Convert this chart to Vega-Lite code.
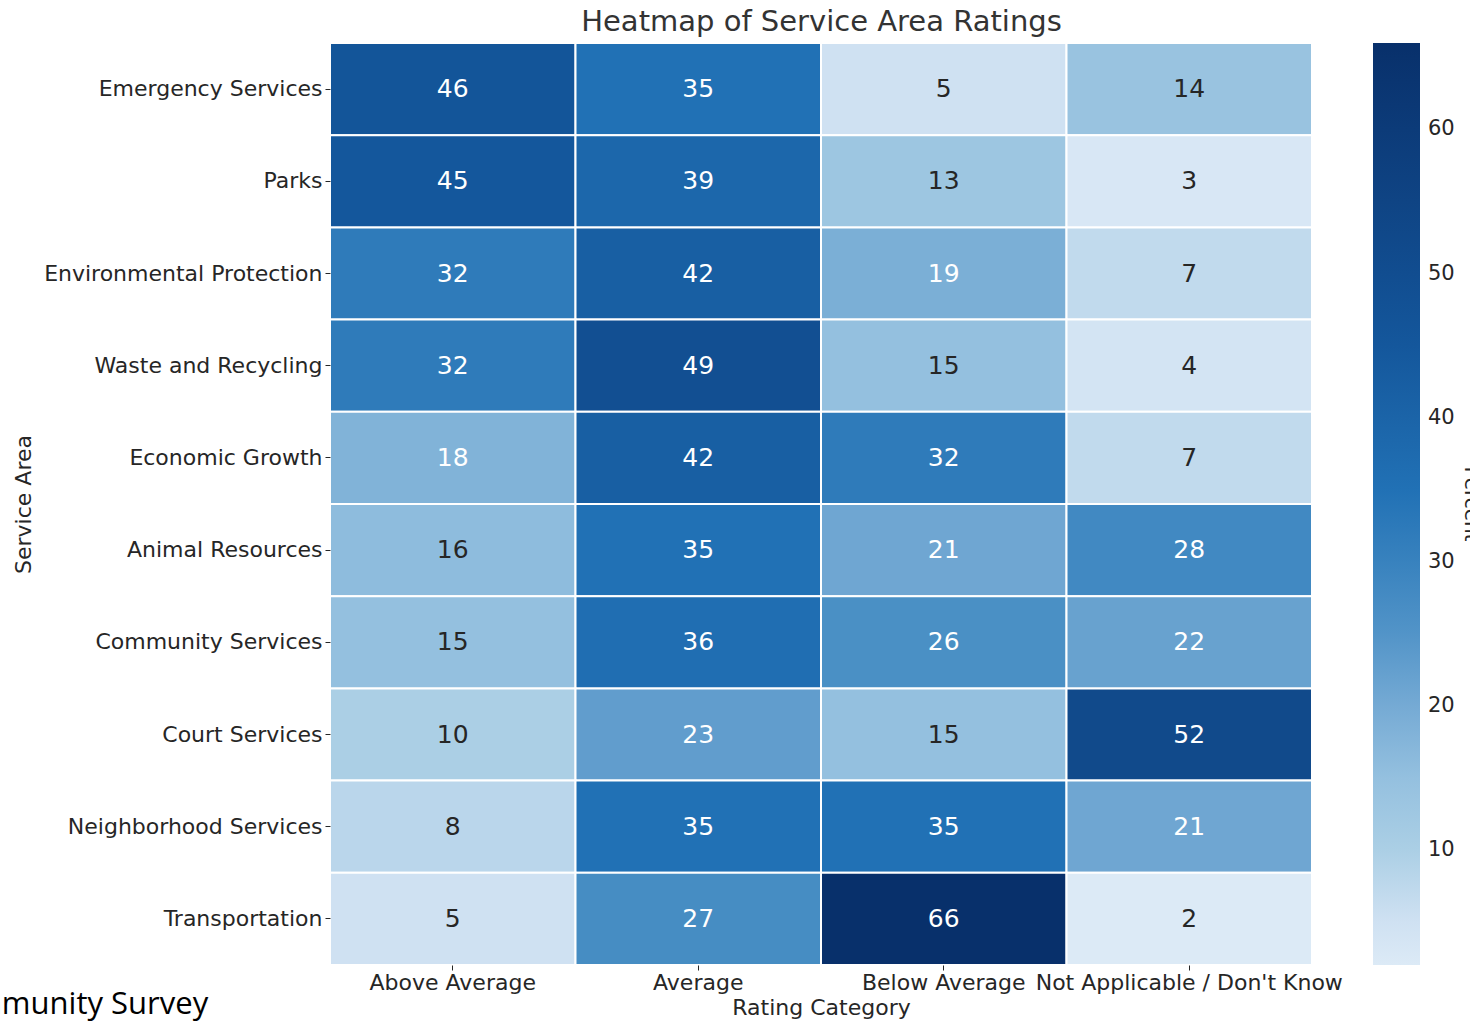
{
  "$schema": "https://vega.github.io/schema/vega-lite/v6.json",
  "autosize": "none",
  "width": 982,
  "height": 922,
  "padding": {"left": 330, "top": 43, "right": 158, "bottom": 56},
  "background": "white",
  "title": {
    "text": "Community Survey",
    "orient": "bottom",
    "anchor": "start",
    "frame": "group",
    "dx": -395,
    "offset": -4,
    "baseline": "alphabetic",
    "font": "Open Sans",
    "fontSize": 31,
    "fontWeight": "normal",
    "color": "#000000"
  },
  "config": {
    "view": {"stroke": null},
    "font": "DejaVu Sans",
    "axis": {"labelFont": "DejaVu Sans", "titleFont": "DejaVu Sans", "labelColor": "#262626", "titleColor": "#262626", "titleFontWeight": "normal", "domain": false, "grid": false, "labelLimit": 400}
  },
  "data": {
    "values": [
      {"area": "Emergency Services", "rating": "Above Average", "value": 46},
      {"area": "Emergency Services", "rating": "Average", "value": 35},
      {"area": "Emergency Services", "rating": "Below Average", "value": 5},
      {"area": "Emergency Services", "rating": "Not Applicable / Don't Know", "value": 14},
      {"area": "Parks", "rating": "Above Average", "value": 45},
      {"area": "Parks", "rating": "Average", "value": 39},
      {"area": "Parks", "rating": "Below Average", "value": 13},
      {"area": "Parks", "rating": "Not Applicable / Don't Know", "value": 3},
      {"area": "Environmental Protection", "rating": "Above Average", "value": 32},
      {"area": "Environmental Protection", "rating": "Average", "value": 42},
      {"area": "Environmental Protection", "rating": "Below Average", "value": 19},
      {"area": "Environmental Protection", "rating": "Not Applicable / Don't Know", "value": 7},
      {"area": "Waste and Recycling", "rating": "Above Average", "value": 32},
      {"area": "Waste and Recycling", "rating": "Average", "value": 49},
      {"area": "Waste and Recycling", "rating": "Below Average", "value": 15},
      {"area": "Waste and Recycling", "rating": "Not Applicable / Don't Know", "value": 4},
      {"area": "Economic Growth", "rating": "Above Average", "value": 18},
      {"area": "Economic Growth", "rating": "Average", "value": 42},
      {"area": "Economic Growth", "rating": "Below Average", "value": 32},
      {"area": "Economic Growth", "rating": "Not Applicable / Don't Know", "value": 7},
      {"area": "Animal Resources", "rating": "Above Average", "value": 16},
      {"area": "Animal Resources", "rating": "Average", "value": 35},
      {"area": "Animal Resources", "rating": "Below Average", "value": 21},
      {"area": "Animal Resources", "rating": "Not Applicable / Don't Know", "value": 28},
      {"area": "Community Services", "rating": "Above Average", "value": 15},
      {"area": "Community Services", "rating": "Average", "value": 36},
      {"area": "Community Services", "rating": "Below Average", "value": 26},
      {"area": "Community Services", "rating": "Not Applicable / Don't Know", "value": 22},
      {"area": "Court Services", "rating": "Above Average", "value": 10},
      {"area": "Court Services", "rating": "Average", "value": 23},
      {"area": "Court Services", "rating": "Below Average", "value": 15},
      {"area": "Court Services", "rating": "Not Applicable / Don't Know", "value": 52},
      {"area": "Neighborhood Services", "rating": "Above Average", "value": 8},
      {"area": "Neighborhood Services", "rating": "Average", "value": 35},
      {"area": "Neighborhood Services", "rating": "Below Average", "value": 35},
      {"area": "Neighborhood Services", "rating": "Not Applicable / Don't Know", "value": 21},
      {"area": "Transportation", "rating": "Above Average", "value": 5},
      {"area": "Transportation", "rating": "Average", "value": 27},
      {"area": "Transportation", "rating": "Below Average", "value": 66},
      {"area": "Transportation", "rating": "Not Applicable / Don't Know", "value": 2}
    ]
  },
  "resolve": {"axis": {"x": "independent"}},
  "layer": [
    {
      "mark": {"type": "rect", "stroke": "white", "strokeWidth": 2},
      "encoding": {
        "x": {
          "field": "rating", "type": "nominal",
          "sort": ["Above Average", "Average", "Below Average", "Not Applicable / Don't Know"],
          "scale": {"paddingInner": 0, "paddingOuter": 0},
          "axis": {"orient": "bottom", "title": "Rating Category", "labelAngle": 0, "labelFontSize": 22, "titleFontSize": 22, "tickSize": 5, "tickColor": "#262626", "labelPadding": 2, "titlePadding": 4}
        },
        "y": {
          "field": "area", "type": "nominal",
          "sort": ["Emergency Services", "Parks", "Environmental Protection", "Waste and Recycling", "Economic Growth", "Animal Resources", "Community Services", "Court Services", "Neighborhood Services", "Transportation"],
          "scale": {"paddingInner": 0, "paddingOuter": 0},
          "axis": {"title": "Service Area", "labelFontSize": 22, "titleFontSize": 22, "tickSize": 5, "tickColor": "#262626", "labelPadding": 3, "titleX": -307, "titleY": 461, "titleAngle": 270, "titleAlign": "center", "titleBaseline": "middle"}
        },
        "color": {
          "field": "value", "type": "quantitative",
          "scale": {
            "domain": [2, 5, 10, 15, 21, 26, 35, 46, 66],
            "range": ["#dceaf6", "#cfe1f2", "#abcfe5", "#94c0df", "#6fa6d2", "#4a90c5", "#2171b5", "#135599", "#08306b"]
          },
          "legend": {
            "title": "Percent",
            "orient": "right",
            "offset": 61,
            "direction": "vertical",
            "gradientLength": 922,
            "gradientThickness": 47,
            "gradientStrokeWidth": 0,
            "values": [10, 20, 30, 40, 50, 60],
            "labelFontSize": 21,
            "labelFont": "DejaVu Sans",
            "labelColor": "#262626",
            "labelOffset": 8,
            "titleOrient": "right",
            "titleAngle": 270,
            "titleFont": "DejaVu Sans",
            "titleFontSize": 20,
            "titleFontWeight": "normal",
            "titleColor": "#262626",
            "titlePadding": 6
          }
        }
      }
    },
    {
      "mark": {"type": "text", "font": "DejaVu Sans", "fontSize": 25},
      "encoding": {
        "x": {
          "field": "rating", "type": "nominal",
          "sort": ["Above Average", "Average", "Below Average", "Not Applicable / Don't Know"],
          "axis": {"orient": "top", "title": "Heatmap of Service Area Ratings", "labels": false, "ticks": false, "domain": false, "titleFontSize": 29, "titleColor": "#333333", "titlePadding": 7}
        },
        "y": {
          "field": "area", "type": "nominal",
          "sort": ["Emergency Services", "Parks", "Environmental Protection", "Waste and Recycling", "Economic Growth", "Animal Resources", "Community Services", "Court Services", "Neighborhood Services", "Transportation"]
        },
        "text": {"field": "value", "type": "quantitative"},
        "color": {
          "condition": {"test": "datum.value >= 17", "value": "#ffffff"},
          "value": "#262626"
        }
      }
    }
  ]
}
